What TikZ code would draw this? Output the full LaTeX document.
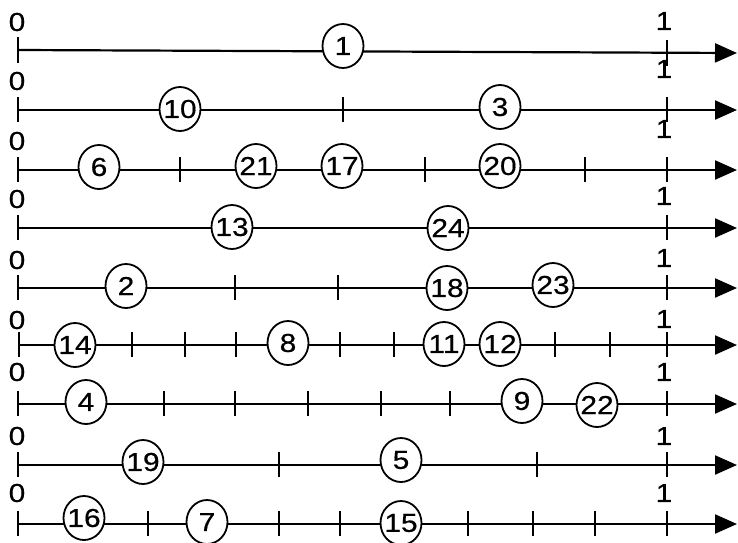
\documentclass[tikz,border=0pt]{standalone}
\usepackage{fontspec}
\setmainfont{Liberation Sans}
\newfontfamily\numfont[FakeStretch=1.15,FakeBold=0.5]{Liberation Sans}
\usetikzlibrary{arrows.meta,shapes.geometric}

\begin{document}
\begin{tikzpicture}[x=1pt,y=-1pt,
  axis/.style={line width=2.2pt,-{Triangle[length=22pt,width=19pt]}},
  tick/.style={line width=1.8pt},
  job/.style={ellipse,draw,line width=1.8pt,fill=white,minimum width=41pt,minimum height=44pt,inner xsep=-6pt,inner ysep=0pt,font=\numfont\fontsize{26}{26}\selectfont},
  lbl/.style={inner sep=0pt,font=\numfont\fontsize{26}{26}\selectfont}]
\useasboundingbox (0,0) rectangle (738,542);
% row 1
\coordinate (s1) at (18,50); \coordinate (e1) at (737,53);
\draw[axis] (s1) -- (e1);
\draw[tick] (18,37) -- (18,63); \draw[tick] (667,40) -- (667,66);
\node[lbl] (z1) at (17,22) {0}; \node[lbl] (o1) at (664,21) {1};
\node[job] (j1) at (343,46) {1};
% row 2
\coordinate (s2) at (18,110); \coordinate (e2) at (737,110);
\draw[axis] (s2) -- (e2);
\foreach \t in {18,343,667} \draw[tick] (\t,97) -- (\t,122);
\node[lbl] (z2) at (17,81) {0}; \node[lbl] (o2) at (664,69) {1};
\node[job] (j10) at (180,109) {10}; \node[job] (j3) at (500,107) {3};
% row 3
\coordinate (s3) at (18,170); \coordinate (e3) at (737,170);
\draw[axis] (s3) -- (e3);
\foreach \t in {18,180,425,585,667} \draw[tick] (\t,157) -- (\t,182);
\node[lbl] (z3) at (17,141) {0}; \node[lbl] (o3) at (664,129) {1};
\node[job] (j6) at (99,167) {6}; \node[job] (j21) at (256,166) {21};
\node[job] (j17) at (342,166) {17}; \node[job] (j20) at (500,166) {20};
% row 4
\coordinate (s4) at (18,228); \coordinate (e4) at (737,228);
\draw[axis] (s4) -- (e4);
\foreach \t in {18,667} \draw[tick] (\t,215) -- (\t,240);
\node[lbl] (z4) at (17,199) {0}; \node[lbl] (o4) at (664,196) {1};
\node[job] (j13) at (232,227) {13}; \node[job] (j24) at (448,228) {24};
% row 5
\coordinate (s5) at (18,288); \coordinate (e5) at (737,288);
\draw[axis] (s5) -- (e5);
\foreach \t in {18,235,338,667} \draw[tick] (\t,275) -- (\t,300);
\node[lbl] (z5) at (17,260) {0}; \node[lbl] (o5) at (664,258) {1};
\node[job] (j2) at (126,286) {2}; \node[job] (j18) at (447,288) {18};
\node[job] (j23) at (553,285) {23};
% row 6
\coordinate (s6) at (19,345); \coordinate (e6) at (737,345);
\draw[axis] (s6) -- (e6);
\foreach \t in {19,132,185,236,340,394,555,610,667} \draw[tick] (\t,332) -- (\t,357);
\node[lbl] (z6) at (17,320) {0}; \node[lbl] (o6) at (664,319) {1};
\node[job] (j14) at (75,345) {14}; \node[job] (j8) at (288,343) {8};
\node[job] (j11) at (444,344) {11}; \node[job] (j12) at (500,344) {12};
% row 7
\coordinate (s7) at (18,404); \coordinate (e7) at (737,404);
\draw[axis] (s7) -- (e7);
\foreach \t in {18,164,235,308,381,450,667} \draw[tick] (\t,391) -- (\t,416);
\node[lbl] (z7) at (17,372) {0}; \node[lbl] (o7) at (664,372) {1};
\node[job] (j4) at (86,402) {4}; \node[job] (j9) at (522,401) {9};
\node[job] (j22) at (597,405) {22};
% row 8
\coordinate (s8) at (18,465); \coordinate (e8) at (737,465);
\draw[axis] (s8) -- (e8);
\foreach \t in {18,279,537,667} \draw[tick] (\t,452) -- (\t,477);
\node[lbl] (z8) at (17,436) {0}; \node[lbl] (o8) at (664,436) {1};
\node[job] (j19) at (143,462) {19}; \node[job] (j5) at (401,460) {5};
% row 9
\coordinate (s9) at (18,524); \coordinate (e9) at (737,524);
\draw[axis] (s9) -- (e9);
\foreach \t in {18,148,279,340,468,533,595,667} \draw[tick] (\t,511) -- (\t,536);
\node[lbl] (z9) at (17,493) {0}; \node[lbl] (o9) at (664,493) {1};
\node[job] (j16) at (84,518) {16}; \node[job] (j7) at (207,522) {7};
\node[job] (j15) at (401,523) {15};
\end{tikzpicture}
\end{document}
